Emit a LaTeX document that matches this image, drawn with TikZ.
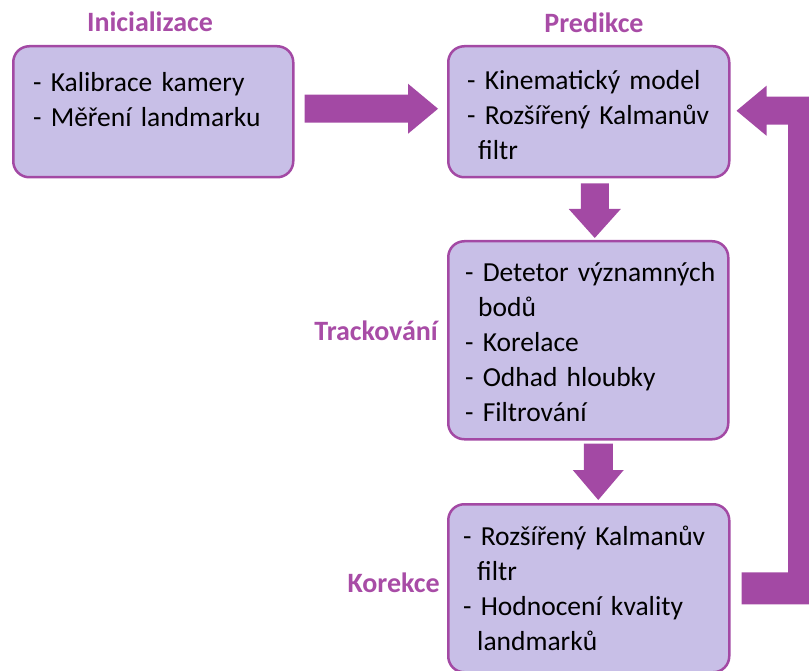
\documentclass[tikz,border=0pt]{standalone}
\usepackage{fontspec}
\setmainfont{Carlito}
\usetikzlibrary{calc}
\definecolor{arrowcol}{RGB}{163,73,164}
\definecolor{boxfill}{RGB}{200,191,231}
\definecolor{titlecol}{RGB}{168,76,166}
\begin{document}
\begin{tikzpicture}[x=1pt,y=-1pt,
  box/.style={draw=arrowcol, fill=boxfill, line width=2.5pt, rounded corners=16pt, anchor=north west, inner sep=0pt},
  body/.style={anchor=base west, inner sep=0pt, align=left, text width=320pt, font=\fontsize{27.5}{35}\selectfont},
  title/.style={text=titlecol, font=\fontsize{28}{32}\selectfont\bfseries, inner sep=0pt},
  fatarrow/.style={fill=arrowcol, draw=none},
]
\useasboundingbox (0,0) rectangle (809,671);
\clip (0,0) rectangle (809,671);

\node[box, minimum width=280pt, minimum height=131pt] (init) at (12,45) {};
\node[box, minimum width=281pt, minimum height=131pt] (pred) at (447,45) {};
\node[box, minimum width=280pt, minimum height=198pt] (track) at (447,240) {};
\node[box, minimum width=281pt, minimum height=168pt] (kor) at (447,503) {};

\node[body] (initT) at ($(init.north west)+(21,47)$) {- Kalibrace kamery\\- Měření landmarku};
\node[body] (predT) at ($(pred.north west)+(20,45)$) {- Kinematický model\\- Rozšířený Kalmanův\\\hspace*{11pt}filtr};
\node[body] (trackT) at ($(track.north west)+(18,42)$) {- Detetor významných\\\hspace*{13pt}bodů\\- Korelace\\- Odhad hloubky\\- Filtrování};
\node[body] (korT) at ($(kor.north west)+(16,42)$) {- Rozšířený Kalmanův\\\hspace*{14pt}filtr\\- Hodnocení kvality\\\hspace*{14pt}landmarků};

\node[title, anchor=base] (initL) at (150,32) {Inicializace};
\node[title, anchor=base] (predL) at (594,33) {Predikce};
\node[title, anchor=base east] (trackL) at (438,340) {Trackování};
\node[title, anchor=base east] (korL) at (440,592) {Korekce};

% Inicializace -> Predikce
\fill[fatarrow] let \p1=($(init.east)+(10,-3)$), \p2=($(pred.west)+(-9,-3)$) in
  (\x1,\y1+14pt) -- (\x2-30pt,\y1+14pt) -- (\x2-30pt,\y1+25pt) -- (\x2,\y1)
  -- (\x2-30pt,\y1-25pt) -- (\x2-30pt,\y1-14pt) -- (\x1,\y1-14pt) -- cycle;
% Predikce -> Trackovani
\fill[fatarrow] let \p1=($(pred.south)+(6,5)$), \p2=($(track.north)+(0,-2)$) in
  (\x1-14pt,\y1) -- (\x1-14pt,\y2+29pt) -- (\x1-26pt,\y2+29pt) -- (\x1,\y2)
  -- (\x1+26pt,\y2+29pt) -- (\x1+14pt,\y2+29pt) -- (\x1+14pt,\y1) -- cycle;
% Trackovani -> Korekce
\fill[fatarrow] let \p1=($(track.south)+(10,3)$), \p2=($(kor.north)+(0,-3)$) in
  (\x1-14.5pt,\y1) -- (\x1-14.5pt,\y2+30pt) -- (\x1-25.5pt,\y2+30pt) -- (\x1,\y2)
  -- (\x1+25.5pt,\y2+30pt) -- (\x1+14.5pt,\y2+30pt) -- (\x1+14.5pt,\y1) -- cycle;
% Korekce -> Predikce (feedback)
\coordinate (fbx) at (803,0);
\fill[fatarrow] let \p1=($(kor.east)+(11,0)$), \p2=($(pred.east)+(6,-1)$), \p3=(fbx) in
  (\x1,\y1+16pt) -- (\x3-15pt,\y1+16pt) -- (\x3-15pt,\y2-14pt) -- (\x2+30pt,\y2-14pt)
  -- (\x2+30pt,\y2-25pt) -- (\x2,\y2) -- (\x2+30pt,\y2+25pt) -- (\x2+30pt,\y2+14pt)
  -- (\x3+15pt,\y2+14pt) -- (\x3+15pt,\y1-16pt) -- (\x1,\y1-16pt) -- cycle;
\end{tikzpicture}
\end{document}
